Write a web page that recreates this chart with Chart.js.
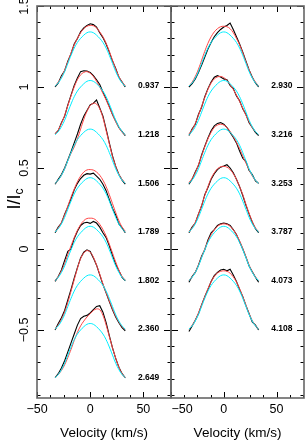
<!DOCTYPE html>
<html>
<head>
<meta charset="utf-8">
<script src="https://cdn.jsdelivr.net/npm/chart.js@4.4.1/dist/chart.umd.min.js"></script>
<style>
  html, body { margin: 0; padding: 0; background: #fff; }
  #wrap { position: relative; width: 306px; height: 441px; }
  #wrap canvas { position: absolute; left: 0; top: 0; }
</style>
</head>
<body>
<div id="wrap">
  <canvas id="leftPanel" width="306" height="441"></canvas>
  <canvas id="rightPanel" width="306" height="441"></canvas>
</div>
<script>
// velocity grid (km/s), shared by every profile
const velocity = [-33, -30, -27, -24, -21, -18, -15, -12, -9, -6, -3, 0, 3, 6, 9, 12, 15, 18, 21, 24, 27, 30, 33];

// cyan model, same for every phase (height above the continuum offset)
const cyanModel = [0.005, 0.025, 0.055, 0.095, 0.145, 0.195, 0.24, 0.275, 0.30, 0.32, 0.335, 0.34, 0.335, 0.32, 0.30, 0.275, 0.24, 0.195, 0.145, 0.095, 0.055, 0.025, 0.005];

// left panel
const leftPhases = ["0.937", "1.218", "1.506", "1.789", "1.802", "2.360", "2.649"];
const leftOffsets = [1.0, 0.7, 0.4, 0.1, -0.2, -0.5, -0.8];

const obs0937 = [0.0, 0.025, 0.07, 0.10, 0.16, 0.205, 0.265, 0.30, 0.34, 0.365, 0.38, 0.39, 0.385, 0.37, 0.335, 0.305, 0.265, 0.215, 0.16, 0.115, 0.06, 0.03, 0.0];
const fit0937 = [0.005, 0.03, 0.06, 0.105, 0.155, 0.21, 0.26, 0.30, 0.335, 0.36, 0.375, 0.38, 0.378, 0.365, 0.34, 0.31, 0.27, 0.22, 0.165, 0.11, 0.065, 0.03, 0.008];
const obs1218 = [0.01, 0.03, 0.08, 0.12, 0.19, 0.25, 0.31, 0.355, 0.395, 0.40, 0.398, 0.39, 0.37, 0.345, 0.315, 0.27, 0.225, 0.18, 0.13, 0.09, 0.05, 0.025, 0.0];
const fit1218 = [0.01, 0.035, 0.075, 0.125, 0.185, 0.245, 0.30, 0.345, 0.375, 0.39, 0.395, 0.385, 0.365, 0.335, 0.30, 0.26, 0.22, 0.175, 0.13, 0.085, 0.05, 0.02, 0.005];
const obs1506 = [0.0, 0.03, 0.06, 0.10, 0.15, 0.20, 0.255, 0.31, 0.37, 0.42, 0.455, 0.49, 0.50, 0.52, 0.47, 0.42, 0.34, 0.255, 0.175, 0.11, 0.06, 0.025, 0.0];
const fit1506 = [0.005, 0.025, 0.055, 0.095, 0.145, 0.19, 0.23, 0.28, 0.34, 0.40, 0.45, 0.485, 0.50, 0.495, 0.465, 0.41, 0.33, 0.25, 0.17, 0.11, 0.06, 0.03, 0.005];
const obs1789 = [0.0, 0.035, 0.06, 0.115, 0.16, 0.21, 0.265, 0.305, 0.335, 0.355, 0.365, 0.362, 0.368, 0.35, 0.33, 0.30, 0.26, 0.205, 0.15, 0.11, 0.055, 0.03, 0.0];
const fit1789 = [0.005, 0.03, 0.065, 0.11, 0.165, 0.22, 0.27, 0.315, 0.35, 0.375, 0.388, 0.39, 0.387, 0.375, 0.355, 0.325, 0.285, 0.235, 0.18, 0.125, 0.075, 0.035, 0.01];
const obs1802 = [0.0, 0.03, 0.07, 0.13, 0.185, 0.20, 0.265, 0.31, 0.345, 0.36, 0.365, 0.358, 0.37, 0.36, 0.335, 0.30, 0.27, 0.22, 0.16, 0.105, 0.065, 0.025, 0.005];
const fit1802 = [0.005, 0.03, 0.065, 0.11, 0.165, 0.22, 0.27, 0.315, 0.35, 0.375, 0.388, 0.39, 0.388, 0.375, 0.352, 0.32, 0.28, 0.23, 0.175, 0.12, 0.07, 0.03, 0.008];
const obs2360 = [0.0, 0.04, 0.075, 0.12, 0.185, 0.25, 0.32, 0.385, 0.445, 0.48, 0.495, 0.485, 0.445, 0.40, 0.34, 0.28, 0.23, 0.175, 0.125, 0.08, 0.045, 0.015, -0.005];
const fit2360 = [0.005, 0.03, 0.065, 0.11, 0.17, 0.24, 0.31, 0.38, 0.44, 0.475, 0.49, 0.48, 0.45, 0.40, 0.345, 0.285, 0.23, 0.18, 0.13, 0.085, 0.05, 0.02, 0.005];
const obs2649 = [0.005, 0.03, 0.065, 0.11, 0.165, 0.22, 0.275, 0.33, 0.37, 0.385, 0.39, 0.405, 0.425, 0.445, 0.45, 0.41, 0.345, 0.265, 0.19, 0.125, 0.07, 0.03, 0.005];
const fit2649 = [0.005, 0.025, 0.05, 0.085, 0.13, 0.18, 0.235, 0.285, 0.325, 0.355, 0.38, 0.40, 0.42, 0.43, 0.425, 0.39, 0.33, 0.26, 0.19, 0.125, 0.07, 0.03, 0.005];

// right panel
const rightPhases = ["2.930", "3.216", "3.253", "3.787", "4.073", "4.108"];
const rightOffsets = [1.0, 0.7, 0.4, 0.1, -0.2, -0.5];

const obs2930 = [0.0, 0.02, 0.05, 0.09, 0.135, 0.185, 0.235, 0.275, 0.31, 0.335, 0.355, 0.37, 0.38, 0.395, 0.355, 0.31, 0.265, 0.215, 0.16, 0.105, 0.06, 0.025, 0.0];
const fit2930 = [0.005, 0.03, 0.065, 0.11, 0.165, 0.22, 0.27, 0.31, 0.34, 0.36, 0.372, 0.375, 0.372, 0.36, 0.335, 0.30, 0.26, 0.21, 0.155, 0.105, 0.06, 0.03, 0.008];
const obs3216 = [0.0, 0.04, 0.07, 0.13, 0.175, 0.24, 0.29, 0.33, 0.36, 0.37, 0.362, 0.35, 0.345, 0.31, 0.29, 0.245, 0.215, 0.165, 0.13, 0.08, 0.05, 0.02, 0.0];
const fit3216 = [0.01, 0.035, 0.075, 0.125, 0.18, 0.235, 0.285, 0.325, 0.35, 0.362, 0.365, 0.358, 0.34, 0.315, 0.285, 0.25, 0.21, 0.17, 0.125, 0.085, 0.05, 0.025, 0.005];
const obs3253 = [0.0, 0.03, 0.075, 0.115, 0.18, 0.235, 0.285, 0.33, 0.36, 0.375, 0.38, 0.37, 0.35, 0.32, 0.29, 0.255, 0.205, 0.16, 0.14, 0.085, 0.06, 0.02, 0.005];
const fit3253 = [0.01, 0.035, 0.07, 0.12, 0.175, 0.23, 0.28, 0.32, 0.35, 0.365, 0.37, 0.365, 0.35, 0.325, 0.295, 0.26, 0.22, 0.175, 0.13, 0.09, 0.05, 0.025, 0.005];
const obs3787 = [0.0, 0.035, 0.06, 0.115, 0.165, 0.235, 0.28, 0.33, 0.365, 0.39, 0.405, 0.412, 0.42, 0.40, 0.37, 0.33, 0.285, 0.23, 0.17, 0.115, 0.065, 0.025, 0.0];
const fit3787 = [0.005, 0.03, 0.065, 0.115, 0.17, 0.23, 0.285, 0.335, 0.37, 0.395, 0.407, 0.41, 0.405, 0.39, 0.365, 0.33, 0.285, 0.235, 0.175, 0.12, 0.07, 0.03, 0.008];
const obs4073 = [-0.005, 0.03, 0.055, 0.10, 0.155, 0.195, 0.255, 0.30, 0.32, 0.345, 0.355, 0.36, 0.355, 0.345, 0.32, 0.29, 0.245, 0.20, 0.15, 0.095, 0.06, 0.025, -0.005];
const fit4073 = [0.005, 0.027, 0.058, 0.10, 0.15, 0.20, 0.248, 0.288, 0.318, 0.34, 0.352, 0.355, 0.352, 0.34, 0.318, 0.288, 0.25, 0.203, 0.152, 0.10, 0.058, 0.027, 0.005];
const obs4108 = [-0.01, 0.025, 0.06, 0.10, 0.155, 0.205, 0.25, 0.30, 0.335, 0.355, 0.37, 0.375, 0.365, 0.375, 0.34, 0.30, 0.25, 0.205, 0.15, 0.10, 0.05, 0.03, 0.0];
const fit4108 = [0.005, 0.028, 0.06, 0.105, 0.155, 0.205, 0.255, 0.297, 0.33, 0.352, 0.362, 0.365, 0.362, 0.35, 0.328, 0.296, 0.255, 0.205, 0.153, 0.10, 0.058, 0.027, 0.005];

const leftObs = [obs0937, obs1218, obs1506, obs1789, obs1802, obs2360, obs2649];
const leftFit = [fit0937, fit1218, fit1506, fit1789, fit1802, fit2360, fit2649];
const rightObs = [obs2930, obs3216, obs3253, obs3787, obs4073, obs4108];
const rightFit = [fit2930, fit3216, fit3253, fit3787, fit4073, fit4108];

// axes
const yRange = [-0.92, 1.5];
const xRange = [-50, 76];
const yTickValues = [-0.5, 0, 0.5, 1, 1.5];
const yTickLabels = ["\u22120.5", "0", "0.5", "1", "1.5"];
const xTickValues = [-50, 0, 50];
const xTickLabels = ["\u221250", "0", "50"];
const phaseLabelVelocity = 45;

const FONT = '"Liberation Sans", Arial, Helvetica, sans-serif';

function stacked(profile, offset) {
  return velocity.map((v, i) => ({ x: v, y: profile[i] + offset }));
}

function buildDatasets(obs, fit, offsets) {
  const sets = [];
  offsets.forEach((off, i) => {
    sets.push({ data: stacked(cyanModel, off), borderColor: "rgb(0,238,255)", borderWidth: 1, tension: 0.4 });
    sets.push({ data: stacked(fit[i], off), borderColor: "rgb(255,70,70)", borderWidth: 1, tension: 0.4 });
    sets.push({ data: stacked(obs[i], off), borderColor: "#000", borderWidth: 1.1, tension: 0 });
  });
  return sets;
}

// frame with inward ticks + all the texts, placed through the chart scales
function panelDecor(phases, offsets, withYLabels, firstLabelShift) {
  return {
    id: "panelDecor",
    afterDraw(chart) {
      const { ctx, chartArea: ca, scales: { x, y } } = chart;
      ctx.save();

      // ticks
      ctx.strokeStyle = "#000";
      ctx.lineWidth = 1;
      ctx.beginPath();
      for (let k = -9; k <= 15; k++) {
        const py = Math.round(y.getPixelForValue(k / 10)) + 0.5;
        const len = k % 5 === 0 ? 7 : 3.5;
        ctx.moveTo(ca.left, py); ctx.lineTo(ca.left + len, py);
        ctx.moveTo(ca.right, py); ctx.lineTo(ca.right - len, py);
      }
      for (let v = -50; v <= 75; v += 12.5) {
        const px = Math.round(x.getPixelForValue(v)) + 0.5;
        const len = v % 50 === 0 ? 6 : 3;
        ctx.moveTo(px, ca.top); ctx.lineTo(px, ca.top + len);
        ctx.moveTo(px, ca.bottom); ctx.lineTo(px, ca.bottom - len);
      }
      ctx.stroke();

      // frame
      ctx.strokeStyle = "#666";
      ctx.lineWidth = 1.6;
      ctx.strokeRect(ca.left, ca.top, ca.right - ca.left, ca.bottom - ca.top);

      ctx.fillStyle = "#000";

      // x tick labels
      ctx.font = "12.5px " + FONT;
      ctx.textAlign = "center";
      ctx.textBaseline = "middle";
      xTickValues.forEach((v, i) => {
        let px = x.getPixelForValue(v);
        if (i === 0) px += firstLabelShift;
        ctx.fillText(xTickLabels[i], px, 410);
      });

      // x title
      ctx.font = "13.5px " + FONT;
      ctx.fillText("Velocity (km/s)", (ca.left + ca.right) / 2, 433);

      // phase labels
      ctx.font = "bold 8.5px " + FONT;
      ctx.textAlign = "left";
      phases.forEach((p, i) => {
        ctx.fillText(p, x.getPixelForValue(phaseLabelVelocity), y.getPixelForValue(offsets[i]) - 1);
      });

      if (withYLabels) {
        // rotated y tick labels
        ctx.font = "12.5px " + FONT;
        ctx.textAlign = "center";
        yTickValues.forEach((v, i) => {
          ctx.save();
          ctx.translate(25, y.getPixelForValue(v));
          ctx.rotate(-Math.PI / 2);
          ctx.fillText(yTickLabels[i], 0, 0);
          ctx.restore();
        });
        // y title I/Ic
        ctx.save();
        ctx.translate(15, 198);
        ctx.rotate(-Math.PI / 2);
        ctx.font = "18px " + FONT;
        ctx.textAlign = "left";
        const w = ctx.measureText("I/I").width;
        ctx.fillText("I/I", -w / 2 - 4, 0);
        ctx.font = "12px " + FONT;
        ctx.fillText("c", w / 2 - 4, 5);
        ctx.restore();
      }
      ctx.restore();
    }
  };
}

function makePanel(canvasId, obs, fit, offsets, phases, padding, withYLabels, firstLabelShift) {
  const ctx = document.getElementById(canvasId).getContext("2d");
  return new Chart(ctx, {
    type: "line",
    data: { datasets: buildDatasets(obs, fit, offsets) },
    options: {
      responsive: false,
      animation: false,
      devicePixelRatio: 1,
      layout: { padding },
      elements: { point: { radius: 0 } },
      plugins: { legend: { display: false }, tooltip: { enabled: false } },
      scales: {
        x: { type: "linear", min: xRange[0], max: xRange[1], display: false },
        y: { type: "linear", min: yRange[0], max: yRange[1], display: false }
      }
    },
    plugins: [panelDecor(phases, offsets, withYLabels, firstLabelShift)]
  });
}

makePanel("leftPanel", leftObs, leftFit, leftOffsets, leftPhases,
  { left: 37, right: 135, top: 6, bottom: 43 }, true, 0);
makePanel("rightPanel", rightObs, rightFit, rightOffsets, rightPhases,
  { left: 171, right: 2, top: 6, bottom: 43 }, false, 11);
</script>
</body>
</html>
